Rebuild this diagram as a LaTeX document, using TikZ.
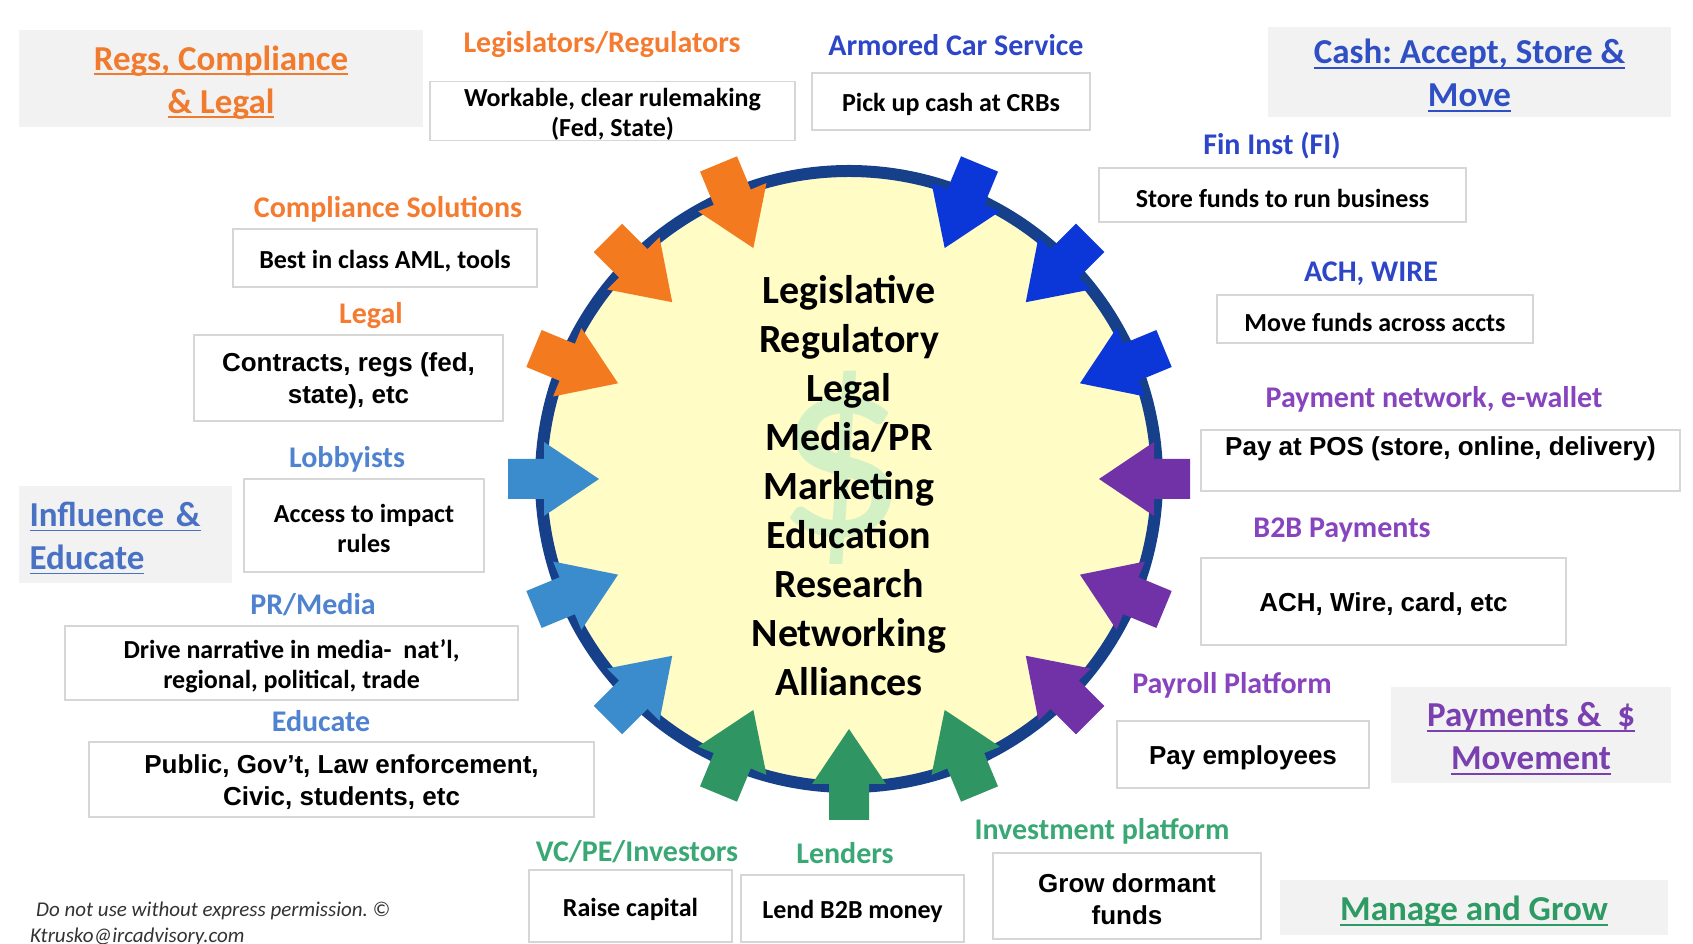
\documentclass[tikz,border=0pt]{standalone}
\usepackage{fontspec}
\setmainfont{Carlito}
\newfontfamily\arialfont{Liberation Sans}
\usetikzlibrary{positioning, calc}
\frenchspacing

\definecolor{headgray}{HTML}{F2F2F2}
\definecolor{boxgray}{HTML}{D6D6D6}
\definecolor{ringblue}{HTML}{17408B}
\definecolor{hubyellow}{HTML}{FFFCC6}
\definecolor{dollargreen}{HTML}{D4F1C6}
\definecolor{arrOrange}{HTML}{F47A20}
\definecolor{arrBlue}{HTML}{0B36D8}
\definecolor{arrPurple}{HTML}{7132A8}
\definecolor{arrGreen}{HTML}{2F9663}
\definecolor{arrLight}{HTML}{3B8CCC}
\definecolor{lblOrange}{HTML}{F47B30}
\definecolor{lblBlue}{HTML}{2D46C8}
\definecolor{lblPurple}{HTML}{8744BE}
\definecolor{lblGreen}{HTML}{3AA874}
\definecolor{lblLight}{HTML}{4F82CF}
\definecolor{hdOrange}{HTML}{F07B2E}
\definecolor{hdBlue}{HTML}{2F4FC4}
\definecolor{hdLight}{HTML}{4A72C4}
\definecolor{hdPurple}{HTML}{7A40B0}
\definecolor{hdGreen}{HTML}{2E9A64}
\definecolor{notegray}{HTML}{333333}

% underlined heading line
\newcommand{\hdul}[1]{\leavevmode\rule{0pt}{32pt}\setbox0\hbox{#1}\rlap{\rule[-5pt]{\wd0}{1.8pt}}\box0}
% top strut for box texts
\newcommand{\tp}{\rule{0pt}{25pt}}

\tikzset{
  sz/.style 2 args={minimum width=#1pt, minimum height=#2pt},
  headbox/.style={fill=headgray, inner sep=0pt, align=center, font=\bfseries\fontsize{35}{43}\selectfont},
  lbl/.style={inner sep=0pt, font=\bfseries\fontsize{30}{34}\selectfont},
  cbox/.style={draw=boxgray, line width=1.2pt, fill=white, inner sep=0pt, align=center, font=\bfseries\fontsize{26}{30}\selectfont},
  abox/.style={cbox, font=\arialfont\bfseries\fontsize{26}{32}\selectfont},
  note/.style={anchor=west, inner sep=0pt, text=notegray, font=\itshape\fontsize{21}{24}\selectfont},
  inarrow/.style={fill=#1, draw=none}
}

% block arrow pointing to the hub, #1 = angle
\newcommand{\hubarrow}[2]{%
  \fill[inarrow=#2, shift={(hubc)}, rotate=#1]
    (341,-20) -- (305,-20) -- (305,-37) -- (250,0) -- (305,37) -- (305,20) -- (341,20) -- cycle;}

\begin{document}
\begin{tikzpicture}[x=1pt, y=1pt]
    \useasboundingbox (0,0) rectangle (1693,944);
    \fill[white] (0,0) rectangle (1693,944);

    % Group headings
    \node[headbox, sz={404}{97}, text=hdOrange] (regsHead) at (221,865.5) {\hdul{Regs, Compliance}\\\hdul{\& Legal}};
    \node[headbox, sz={403}{90}, text=hdBlue] (cashHead) at (1469.5,872) {\hdul{Cash: Accept, Store \&}\\\hdul{Move}};
    \node[headbox, sz={213}{97}, text=hdLight, align=left, text width=192pt, inner xsep=10.5pt] (inflHead) at (125.5,409.5) {\hdul{Influence \&}\\\hdul{Educate}};
    \node[headbox, sz={280}{96}, text=hdPurple] (payHead) at (1531,209) {\hdul{Payments \&\ \ \$}\\\hdul{Movement}};
    \node[headbox, sz={388}{55}, text=hdGreen] (growHead) at (1474,36.5) {\hdul{Manage and Grow}};

    % Hub
    \coordinate (hubc) at (849,465);
    \draw[fill=hubyellow, draw=ringblue, line width=12pt] (hubc) circle (308);
    \node[text=dollargreen, font=\fontsize{260}{260}\selectfont] (dollar) at (841,476) {\$};
    \node[align=center, font=\bfseries\fontsize{40}{49}\selectfont] (hub) at (849,458)
      {Legislative\\Regulatory\\Legal\\Media/PR\\Marketing\\Education\\Research\\Networking\\Alliances};

    % Arrows into the hub
    \foreach \a in {112.5,135,157.5} {\hubarrow{\a}{arrOrange}}
    \foreach \a in {67.5,45,22.5} {\hubarrow{\a}{arrBlue}}
    \foreach \a in {0,-22.5,-45} {\hubarrow{\a}{arrPurple}}
    \foreach \a in {-67.5,-90,-112.5} {\hubarrow{\a}{arrGreen}}
    \foreach \a in {180,202.5,225} {\hubarrow{\a}{arrLight}}

    % Regs, compliance & legal
    \node[lbl, text=lblOrange] (legisLbl) at (602,899) {Legislators/Regulators};
    \node[cbox, sz={365}{58}] (workBox) at (612.5,833) {\tp Workable, clear rulemaking\\(Fed, State)};
    \node[lbl, text=lblOrange] (compLbl) at (388,735) {Compliance Solutions};
    \node[cbox, sz={304}{58}] (bestBox) at (385,686) {\tp Best in class AML, tools};
    \node[lbl, text=lblOrange] (legalLbl) at (371,628) {Legal};
    \node[abox, sz={309}{86}] (contractBox) at (348.5,566) {\tp Contracts, regs (fed,\\state), etc};

    % Influence & educate
    \node[lbl, text=lblLight] (lobbyLbl) at (347,485) {Lobbyists};
    \node[cbox, sz={240}{93}] (accessBox) at (364,418.5) {\tp Access to impact\\rules};
    \node[lbl, text=lblLight] (prLbl) at (313,339) {PR/Media};
    \node[cbox, sz={453}{74}] (prBox) at (291.5,281) {\tp Drive narrative in media-\ \ nat’l,\\regional, political, trade};
    \node[lbl, text=lblLight] (eduLbl) at (321,223) {Educate};
    \node[abox, sz={505}{75}] (eduBox) at (341.5,164.5) {\tp Public, Gov’t, Law enforcement,\\Civic, students, etc};

    % Cash
    \node[lbl, text=lblBlue] (armorLbl) at (956,899) {Armored Car Service};
    \node[cbox, sz={278}{57}] (pickBox) at (951,842.5) {\tp Pick up cash at CRBs};
    \node[lbl, text=lblBlue] (finLbl) at (1272,798) {Fin Inst (FI)};
    \node[cbox, sz={367}{54}] (storeBox) at (1282.5,749) {\tp Store funds to run business};
    \node[lbl, text=lblBlue] (achLbl) at (1371,670) {ACH, WIRE};
    \node[cbox, sz={316}{48}] (moveBox) at (1375,625) {\tp Move funds across accts};

    % Payments
    \node[lbl, text=lblPurple] (pnetLbl) at (1434,545) {Payment network, e-wallet};
    \node[abox, sz={479}{61}] (posBox) at (1440.5,483.5) {\tp Pay at POS (store, online, delivery)\\[-7pt]\strut};
    \node[lbl, text=lblPurple] (b2bLbl) at (1342,414) {B2B Payments};
    \node[abox, sz={365}{87}] (achBox) at (1383.5,342.5) {\tp ACH, Wire, card, etc};
    \node[lbl, text=lblPurple] (payrollLbl) at (1232,259) {Payroll Platform};
    \node[abox, sz={252}{67}] (payEmpBox) at (1243,189.5) {\tp Pay employees};

    % Manage and grow
    \node[lbl, text=lblGreen] (investLbl) at (1102,113) {Investment platform};
    \node[abox, sz={268}{86}] (growBox) at (1127,48) {\tp Grow dormant\\funds};
    \node[lbl, text=lblGreen] (lendLbl) at (845,91) {Lenders};
    \node[cbox, sz={223}{67}] (lendBox) at (852.5,35.5) {\tp Lend B2B money};
    \node[lbl, text=lblGreen] (vcLbl) at (637,92) {VC/PE/Investors};
    \node[cbox, sz={203}{72}] (raiseBox) at (630.5,38) {\tp Raise capital};

    % Note
    \node[note] (noteA) at (36,33) {Do not use without express permission. ©};
    \node[note] (noteB) at (30,7) {Ktrusko@ircadvisory.com};
\end{tikzpicture}
\end{document}
